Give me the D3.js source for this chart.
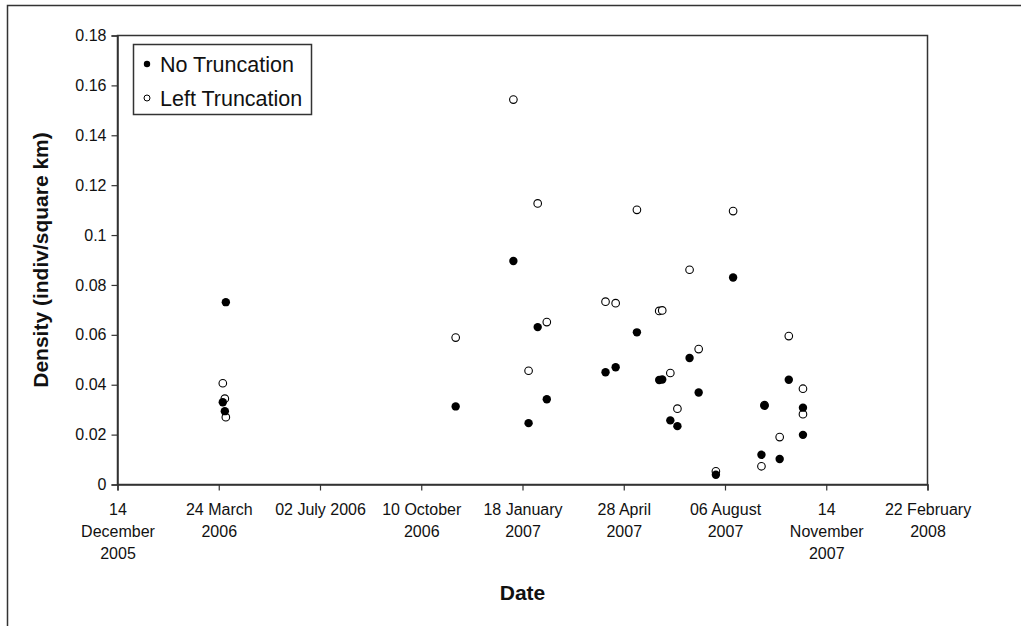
<!DOCTYPE html>
<html>
<head>
<meta charset="utf-8">
<script src="https://cdn.jsdelivr.net/npm/d3@7"></script>
<style>
  html, body { margin: 0; padding: 0; background: #fff; }
  svg { display: block; }
  text { font-family: Arial, "Liberation Sans", sans-serif; fill: #111; }
</style>
</head>
<body>
<svg id="chart" width="1021" height="626"></svg>
<script>
// ---- Data ----
const dates = ["2006-03-28","2006-03-30","2006-03-31","2006-11-13","2007-01-09","2007-01-24","2007-02-02","2007-02-11","2007-04-10","2007-04-20","2007-05-11","2007-06-02","2007-06-05","2007-06-13","2007-06-20","2007-07-02","2007-07-11","2007-07-28","2007-08-14","2007-09-11","2007-09-14","2007-09-29","2007-10-08","2007-10-22","2007-10-22"];
const noTruncation = [0.033, 0.0294, 0.0731, 0.0313, 0.0896, 0.0246, 0.0631, 0.0342, 0.045, 0.047, 0.061, 0.0419, 0.0421, 0.0257, 0.0234, 0.0507, 0.0369, 0.0039, 0.083, 0.0119, 0.0316, 0.0102, 0.042, 0.0308, 0.0199];
const leftTruncation = [0.0406, 0.0344, 0.027, 0.0589, 0.1543, 0.0456, 0.1127, 0.0651, 0.0733, 0.0727, 0.1101, 0.0696, 0.0698, 0.0447, 0.0304, 0.0861, 0.0543, 0.0053, 0.1096, 0.0073, 0.0318, 0.019, 0.0595, 0.0384, 0.0282];
const xTickDates = ["2005-12-14","2006-03-24","2006-07-02","2006-10-10","2007-01-18","2007-04-28","2007-08-06","2007-11-14","2008-02-22"];
const xTickLabels = [["14","December","2005"],["24 March","2006"],["02 July 2006"],["10 October","2006"],["18 January","2007"],["28 April","2007"],["06 August","2007"],["14","November","2007"],["22 February","2008"]];
const yTicks = [0, 0.02, 0.04, 0.06, 0.08, 0.1, 0.12, 0.14, 0.16, 0.18];
const yTickLabels = ["0","0.02","0.04","0.06","0.08","0.1","0.12","0.14","0.16","0.18"];
const seriesNames = ["No Truncation", "Left Truncation"];
const xTitle = "Date";
const yTitle = "Density (indiv/square km)";

// ---- Layout ----
const parse = d3.utcParse("%Y-%m-%d");
const plotL = 117.5, plotR = 927.5, plotT = 35.5, plotB = 484.5;
const svg = d3.select("#chart");
const axisColor = "#333";

// Outer frame (only left/top visible)
svg.append("rect").attr("x", 7.5).attr("y", 5.5).attr("width", 1040).attr("height", 660)
  .attr("fill", "none").attr("stroke", axisColor).attr("stroke-width", 1.5);

const x = d3.scaleUtc().domain([parse(xTickDates[0]), parse(xTickDates[xTickDates.length - 1])]).range([plotL, plotR]);
const y = d3.scaleLinear().domain([0, 0.18]).range([plotB, plotT]);

// Plot area box
svg.append("rect").attr("x", plotL).attr("y", plotT).attr("width", plotR - plotL).attr("height", plotB - plotT)
  .attr("fill", "#fff").attr("stroke", axisColor).attr("stroke-width", 1.5);

// Y axis
const yAxis = svg.append("g").attr("transform", `translate(${plotL},0)`)
  .call(d3.axisLeft(y).tickValues(yTicks).tickSize(6).tickPadding(5)
    .tickFormat((d, i) => yTickLabels[i]));
yAxis.select(".domain").attr("stroke", axisColor).attr("stroke-width", 1.5);
yAxis.selectAll(".tick line").attr("stroke", axisColor).attr("stroke-width", 1.2);
yAxis.selectAll(".tick text").style("font-size", "16px").style("font-family", "Arial, 'Liberation Sans', sans-serif").attr("fill", "#111");

// X axis
const xAxis = svg.append("g").attr("transform", `translate(0,${plotB})`)
  .call(d3.axisBottom(x).tickValues(xTickDates.map(parse)).tickSize(6).tickFormat(""));
xAxis.select(".domain").attr("stroke", axisColor).attr("stroke-width", 1.5);
xAxis.selectAll(".tick line").attr("stroke", axisColor).attr("stroke-width", 1.2);
xAxis.selectAll(".tick").each(function (d, i) {
  const t = d3.select(this).append("text").attr("text-anchor", "middle")
    .style("font-size", "16px").style("font-family", "Arial, 'Liberation Sans', sans-serif").attr("fill", "#111");
  xTickLabels[i].forEach((line, j) => {
    t.append("tspan").attr("x", 0).attr("y", 30 + j * 22).text(line);
  });
});

// Points: open first, filled on top
const data = dates.map((d, i) => ({ date: parse(d), nt: noTruncation[i], lt: leftTruncation[i] }));
svg.append("g").selectAll("circle").data(data).join("circle")
  .attr("cx", d => x(d.date)).attr("cy", d => y(d.lt)).attr("r", 3.8)
  .attr("fill", "#fff").attr("stroke", "#000").attr("stroke-width", 1.1);
svg.append("g").selectAll("circle").data(data).join("circle")
  .attr("cx", d => x(d.date)).attr("cy", d => y(d.nt)).attr("r", 4.2)
  .attr("fill", "#000");

// Legend
const lg = svg.append("g");
lg.append("rect").attr("x", 133.5).attr("y", 44.5).attr("width", 178).attr("height", 70)
  .attr("fill", "#fff").attr("stroke", axisColor).attr("stroke-width", 1.5);
lg.append("circle").attr("cx", 147).attr("cy", 64).attr("r", 3.2).attr("fill", "#000");
lg.append("circle").attr("cx", 147).attr("cy", 98).attr("r", 3).attr("fill", "#fff").attr("stroke", "#000").attr("stroke-width", 1);
lg.append("text").attr("x", 160).attr("y", 72).style("font-size", "21.5px").text(seriesNames[0]);
lg.append("text").attr("x", 160).attr("y", 106).style("font-size", "21.5px").text(seriesNames[1]);

// Axis titles
svg.append("text").attr("x", (plotL + plotR) / 2).attr("y", 600).attr("text-anchor", "middle")
  .style("font-size", "21px").style("font-weight", "bold").text(xTitle);
svg.append("text").attr("transform", `translate(48,${(plotT + plotB) / 2}) rotate(-90)`)
  .attr("text-anchor", "middle").style("font-size", "21px").style("font-weight", "bold").text(yTitle);
</script>
</body>
</html>
